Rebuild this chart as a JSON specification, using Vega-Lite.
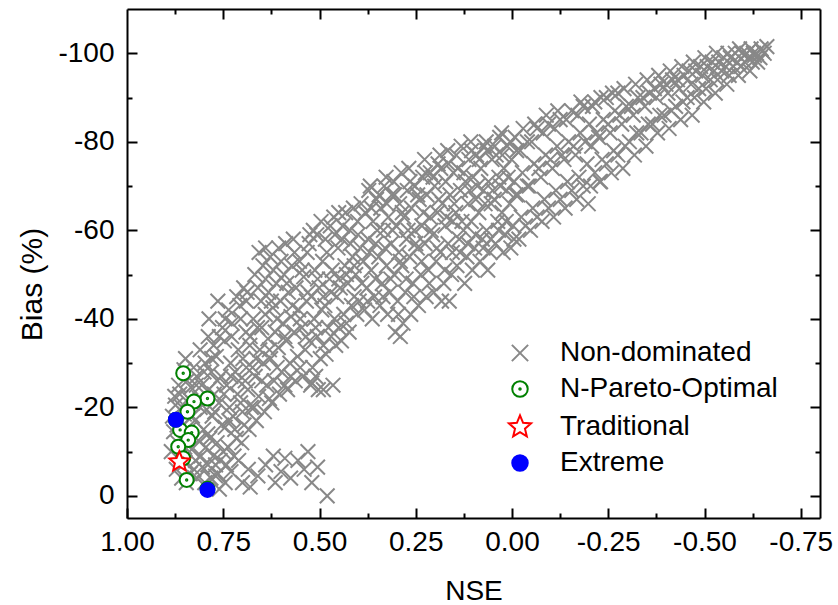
{
"$schema": "https://vega.github.io/schema/vega-lite/v6.json",
"width": 693, "height": 509,
"autosize": {"type": "none"},
"padding": {"left": 127, "top": 9, "right": 18, "bottom": 87},
"background": "white",
"config": {
 "view": {"stroke": null},
 "font": "Liberation Sans",
 "axis": {"domainColor": "black", "domainWidth": 2, "tickColor": "black", "tickWidth": 2, "labelColor": "black", "labelFont": "Liberation Sans", "labelFontSize": 28, "titleFont": "Liberation Sans", "titleFontSize": 28, "titleFontWeight": "normal", "titleColor": "black", "grid": false, "labelFlush": false, "labelOverlap": false}
},
"resolve": {"axis": {"x": "independent", "y": "independent"}},
"layer": [
 {
  "data": {"values": [
{"s":"Non-dominated","x":0.885,"y":-10},{"s":"Non-dominated","x":0.879,"y":-14.5},{"s":"Non-dominated","x":0.882,"y":-18},{"s":"Non-dominated","x":0.876,"y":-22.5},
{"s":"Non-dominated","x":0.872,"y":-6},{"s":"Non-dominated","x":0.868,"y":-12},{"s":"Non-dominated","x":0.874,"y":-20.5},{"s":"Non-dominated","x":0.866,"y":-25},
{"s":"Non-dominated","x":0.858,"y":-4},{"s":"Non-dominated","x":0.861,"y":-9},{"s":"Non-dominated","x":0.855,"y":-16},{"s":"Non-dominated","x":0.863,"y":-23},{"s":"Non-dominated","x":0.852,"y":-28.5},
{"s":"Non-dominated","x":0.846,"y":-3},{"s":"Non-dominated","x":0.849,"y":-7.5},{"s":"Non-dominated","x":0.843,"y":-13},{"s":"Non-dominated","x":0.851,"y":-18.5},{"s":"Non-dominated","x":0.844,"y":-26},{"s":"Non-dominated","x":0.848,"y":-31},
{"s":"Non-dominated","x":0.836,"y":-5},{"s":"Non-dominated","x":0.832,"y":-10.5},{"s":"Non-dominated","x":0.839,"y":-15},{"s":"Non-dominated","x":0.829,"y":-21},{"s":"Non-dominated","x":0.834,"y":-24.5},{"s":"Non-dominated","x":0.827,"y":-29},
{"s":"Non-dominated","x":0.818,"y":-4},{"s":"Non-dominated","x":0.822,"y":-8},{"s":"Non-dominated","x":0.815,"y":-12.5},{"s":"Non-dominated","x":0.824,"y":-17},{"s":"Non-dominated","x":0.812,"y":-22},{"s":"Non-dominated","x":0.819,"y":-27},{"s":"Non-dominated","x":0.81,"y":-33},
{"s":"Non-dominated","x":0.798,"y":-3},{"s":"Non-dominated","x":0.804,"y":-6.5},{"s":"Non-dominated","x":0.795,"y":-11},{"s":"Non-dominated","x":0.801,"y":-15},{"s":"Non-dominated","x":0.793,"y":-19.5},{"s":"Non-dominated","x":0.806,"y":-25},{"s":"Non-dominated","x":0.797,"y":-30},{"s":"Non-dominated","x":0.789,"y":-36},
{"s":"Non-dominated","x":0.782,"y":-4},{"s":"Non-dominated","x":0.776,"y":-9},{"s":"Non-dominated","x":0.785,"y":-13},{"s":"Non-dominated","x":0.779,"y":-18},{"s":"Non-dominated","x":0.773,"y":-23},{"s":"Non-dominated","x":0.781,"y":-28},{"s":"Non-dominated","x":0.775,"y":-34},{"s":"Non-dominated","x":0.787,"y":-40},
{"s":"Non-dominated","x":0.763,"y":-5},{"s":"Non-dominated","x":0.758,"y":-8},{"s":"Non-dominated","x":0.766,"y":-12},{"s":"Non-dominated","x":0.754,"y":-16},{"s":"Non-dominated","x":0.761,"y":-21},{"s":"Non-dominated","x":0.756,"y":-27},{"s":"Non-dominated","x":0.768,"y":-31.5},{"s":"Non-dominated","x":0.752,"y":-38},{"s":"Non-dominated","x":0.764,"y":-44},
{"s":"Non-dominated","x":0.742,"y":-7},{"s":"Non-dominated","x":0.737,"y":-11},{"s":"Non-dominated","x":0.745,"y":-15.5},{"s":"Non-dominated","x":0.734,"y":-20},{"s":"Non-dominated","x":0.741,"y":-25},{"s":"Non-dominated","x":0.731,"y":-30},{"s":"Non-dominated","x":0.747,"y":-35},{"s":"Non-dominated","x":0.736,"y":-42},
{"s":"Non-dominated","x":0.722,"y":-9},{"s":"Non-dominated","x":0.716,"y":-13},{"s":"Non-dominated","x":0.725,"y":-18},{"s":"Non-dominated","x":0.713,"y":-23},{"s":"Non-dominated","x":0.719,"y":-28},{"s":"Non-dominated","x":0.711,"y":-33},{"s":"Non-dominated","x":0.727,"y":-39},{"s":"Non-dominated","x":0.715,"y":-45},
{"s":"Non-dominated","x":0.702,"y":-12},{"s":"Non-dominated","x":0.696,"y":-16},{"s":"Non-dominated","x":0.705,"y":-21},{"s":"Non-dominated","x":0.693,"y":-26},{"s":"Non-dominated","x":0.699,"y":-31},{"s":"Non-dominated","x":0.691,"y":-37},{"s":"Non-dominated","x":0.707,"y":-43},{"s":"Non-dominated","x":0.697,"y":-47},
{"s":"Non-dominated","x":0.683,"y":-15},{"s":"Non-dominated","x":0.677,"y":-20},{"s":"Non-dominated","x":0.686,"y":-24},{"s":"Non-dominated","x":0.674,"y":-29},{"s":"Non-dominated","x":0.681,"y":-34},{"s":"Non-dominated","x":0.672,"y":-40},{"s":"Non-dominated","x":0.688,"y":-46},
{"s":"Non-dominated","x":0.87,"y":-16},{"s":"Non-dominated","x":0.857,"y":-20},{"s":"Non-dominated","x":0.85,"y":-11},{"s":"Non-dominated","x":0.84,"y":-22},{"s":"Non-dominated","x":0.826,"y":-6},{"s":"Non-dominated","x":0.83,"y":-18},{"s":"Non-dominated","x":0.82,"y":-25},{"s":"Non-dominated","x":0.808,"y":-9},{"s":"Non-dominated","x":0.81,"y":-20},{"s":"Non-dominated","x":0.80,"y":-28},{"s":"Non-dominated","x":0.79,"y":-14},{"s":"Non-dominated","x":0.788,"y":-24},{"s":"Non-dominated","x":0.78,"y":-31},{"s":"Non-dominated","x":0.77,"y":-7},{"s":"Non-dominated","x":0.772,"y":-19},{"s":"Non-dominated","x":0.765,"y":-26},{"s":"Non-dominated","x":0.76,"y":-36},{"s":"Non-dominated","x":0.75,"y":-10},{"s":"Non-dominated","x":0.748,"y":-23},{"s":"Non-dominated","x":0.745,"y":-40},{"s":"Non-dominated","x":0.735,"y":-17},{"s":"Non-dominated","x":0.73,"y":-27},{"s":"Non-dominated","x":0.728,"y":-36},{"s":"Non-dominated","x":0.72,"y":-15},{"s":"Non-dominated","x":0.71,"y":-26},{"s":"Non-dominated","x":0.705,"y":-40},{"s":"Non-dominated","x":0.70,"y":-19},{"s":"Non-dominated","x":0.69,"y":-29},{"s":"Non-dominated","x":0.69,"y":-44},{"s":"Non-dominated","x":0.68,"y":-36},
{"s":"Non-dominated","x":0.79,"y":-7},{"s":"Non-dominated","x":0.77,"y":-4.5},{"s":"Non-dominated","x":0.745,"y":-3},{"s":"Non-dominated","x":0.73,"y":-5.5},{"s":"Non-dominated","x":0.70,"y":-3},{"s":"Non-dominated","x":0.685,"y":-6},{"s":"Non-dominated","x":0.66,"y":-4.5},{"s":"Non-dominated","x":0.64,"y":-7},{"s":"Non-dominated","x":0.615,"y":-3},{"s":"Non-dominated","x":0.60,"y":-5.5},{"s":"Non-dominated","x":0.59,"y":-8.5},{"s":"Non-dominated","x":0.575,"y":-4},{"s":"Non-dominated","x":0.556,"y":-8},{"s":"Non-dominated","x":0.54,"y":-6},{"s":"Non-dominated","x":0.52,"y":-3},{"s":"Non-dominated","x":0.505,"y":-6.5},{"s":"Non-dominated","x":0.48,"y":0},{"s":"Non-dominated","x":0.53,"y":-10},{"s":"Non-dominated","x":0.62,"y":-9},{"s":"Non-dominated","x":0.71,"y":-8},{"s":"Non-dominated","x":0.76,"y":-1.5},{"s":"Non-dominated","x":0.68,"y":-2},
{"s":"Non-dominated","x":0.664,"y":-17},{"s":"Non-dominated","x":0.658,"y":-22.5},{"s":"Non-dominated","x":0.667,"y":-27},{"s":"Non-dominated","x":0.655,"y":-33},{"s":"Non-dominated","x":0.661,"y":-38},{"s":"Non-dominated","x":0.652,"y":-44},{"s":"Non-dominated","x":0.668,"y":-50},{"s":"Non-dominated","x":0.657,"y":-55},
{"s":"Non-dominated","x":0.643,"y":-19},{"s":"Non-dominated","x":0.637,"y":-25},{"s":"Non-dominated","x":0.646,"y":-30},{"s":"Non-dominated","x":0.634,"y":-35.5},{"s":"Non-dominated","x":0.641,"y":-41},{"s":"Non-dominated","x":0.632,"y":-46},{"s":"Non-dominated","x":0.647,"y":-52},
{"s":"Non-dominated","x":0.624,"y":-21},{"s":"Non-dominated","x":0.618,"y":-26},{"s":"Non-dominated","x":0.627,"y":-31},{"s":"Non-dominated","x":0.615,"y":-37},{"s":"Non-dominated","x":0.621,"y":-42.5},{"s":"Non-dominated","x":0.612,"y":-48},{"s":"Non-dominated","x":0.628,"y":-54},
{"s":"Non-dominated","x":0.604,"y":-23},{"s":"Non-dominated","x":0.598,"y":-28},{"s":"Non-dominated","x":0.607,"y":-33.5},{"s":"Non-dominated","x":0.595,"y":-39},{"s":"Non-dominated","x":0.601,"y":-44},{"s":"Non-dominated","x":0.592,"y":-50},{"s":"Non-dominated","x":0.606,"y":-56},
{"s":"Non-dominated","x":0.583,"y":-24},{"s":"Non-dominated","x":0.577,"y":-30},{"s":"Non-dominated","x":0.586,"y":-35},{"s":"Non-dominated","x":0.574,"y":-40.5},{"s":"Non-dominated","x":0.581,"y":-46},{"s":"Non-dominated","x":0.572,"y":-52},{"s":"Non-dominated","x":0.588,"y":-57},
{"s":"Non-dominated","x":0.563,"y":-26},{"s":"Non-dominated","x":0.557,"y":-31.5},{"s":"Non-dominated","x":0.566,"y":-37},{"s":"Non-dominated","x":0.554,"y":-42},{"s":"Non-dominated","x":0.561,"y":-47},{"s":"Non-dominated","x":0.552,"y":-53},{"s":"Non-dominated","x":0.568,"y":-58},
{"s":"Non-dominated","x":0.543,"y":-27},{"s":"Non-dominated","x":0.537,"y":-33},{"s":"Non-dominated","x":0.546,"y":-38},{"s":"Non-dominated","x":0.534,"y":-44},{"s":"Non-dominated","x":0.541,"y":-49.5},{"s":"Non-dominated","x":0.532,"y":-55},
{"s":"Non-dominated","x":0.523,"y":-25},{"s":"Non-dominated","x":0.518,"y":-29},{"s":"Non-dominated","x":0.526,"y":-35},{"s":"Non-dominated","x":0.514,"y":-40},{"s":"Non-dominated","x":0.521,"y":-45},{"s":"Non-dominated","x":0.512,"y":-51},{"s":"Non-dominated","x":0.527,"y":-57},{"s":"Non-dominated","x":0.516,"y":-60},
{"s":"Non-dominated","x":0.503,"y":-24},{"s":"Non-dominated","x":0.498,"y":-31},{"s":"Non-dominated","x":0.506,"y":-36},{"s":"Non-dominated","x":0.494,"y":-42},{"s":"Non-dominated","x":0.501,"y":-47},{"s":"Non-dominated","x":0.492,"y":-53},{"s":"Non-dominated","x":0.507,"y":-59},{"s":"Non-dominated","x":0.496,"y":-62},
{"s":"Non-dominated","x":0.483,"y":-32},{"s":"Non-dominated","x":0.477,"y":-38},{"s":"Non-dominated","x":0.486,"y":-43},{"s":"Non-dominated","x":0.474,"y":-49},{"s":"Non-dominated","x":0.481,"y":-55},{"s":"Non-dominated","x":0.472,"y":-61},
{"s":"Non-dominated","x":0.465,"y":-25},{"s":"Non-dominated","x":0.458,"y":-34},{"s":"Non-dominated","x":0.461,"y":-40},{"s":"Non-dominated","x":0.455,"y":-45},{"s":"Non-dominated","x":0.467,"y":-51},{"s":"Non-dominated","x":0.452,"y":-56},{"s":"Non-dominated","x":0.463,"y":-63},
{"s":"Non-dominated","x":0.443,"y":-35},{"s":"Non-dominated","x":0.437,"y":-41},{"s":"Non-dominated","x":0.446,"y":-47},{"s":"Non-dominated","x":0.434,"y":-52},{"s":"Non-dominated","x":0.441,"y":-58},{"s":"Non-dominated","x":0.432,"y":-64},
{"s":"Non-dominated","x":0.423,"y":-37},{"s":"Non-dominated","x":0.417,"y":-43},{"s":"Non-dominated","x":0.426,"y":-48},{"s":"Non-dominated","x":0.414,"y":-54},{"s":"Non-dominated","x":0.421,"y":-60},{"s":"Non-dominated","x":0.412,"y":-65},
{"s":"Non-dominated","x":0.403,"y":-41},{"s":"Non-dominated","x":0.397,"y":-44},{"s":"Non-dominated","x":0.406,"y":-50},{"s":"Non-dominated","x":0.394,"y":-56},{"s":"Non-dominated","x":0.401,"y":-62},{"s":"Non-dominated","x":0.392,"y":-66},
{"s":"Non-dominated","x":0.67,"y":-20},{"s":"Non-dominated","x":0.665,"y":-31},{"s":"Non-dominated","x":0.66,"y":-47},{"s":"Non-dominated","x":0.65,"y":-26},{"s":"Non-dominated","x":0.65,"y":-38},{"s":"Non-dominated","x":0.64,"y":-49},{"s":"Non-dominated","x":0.63,"y":-22},{"s":"Non-dominated","x":0.63,"y":-33},{"s":"Non-dominated","x":0.625,"y":-44},{"s":"Non-dominated","x":0.62,"y":-51},{"s":"Non-dominated","x":0.61,"y":-29},{"s":"Non-dominated","x":0.61,"y":-40},{"s":"Non-dominated","x":0.60,"y":-53},{"s":"Non-dominated","x":0.59,"y":-25},{"s":"Non-dominated","x":0.59,"y":-36},{"s":"Non-dominated","x":0.585,"y":-48},{"s":"Non-dominated","x":0.575,"y":-27},{"s":"Non-dominated","x":0.57,"y":-43},{"s":"Non-dominated","x":0.565,"y":-55},{"s":"Non-dominated","x":0.55,"y":-29},{"s":"Non-dominated","x":0.55,"y":-40},{"s":"Non-dominated","x":0.545,"y":-51},{"s":"Non-dominated","x":0.535,"y":-36},{"s":"Non-dominated","x":0.53,"y":-46},{"s":"Non-dominated","x":0.525,"y":-59},{"s":"Non-dominated","x":0.51,"y":-27},{"s":"Non-dominated","x":0.51,"y":-38},{"s":"Non-dominated","x":0.505,"y":-49},{"s":"Non-dominated","x":0.49,"y":-34},{"s":"Non-dominated","x":0.49,"y":-45},{"s":"Non-dominated","x":0.485,"y":-58},{"s":"Non-dominated","x":0.47,"y":-36},{"s":"Non-dominated","x":0.47,"y":-46},{"s":"Non-dominated","x":0.46,"y":-59},{"s":"Non-dominated","x":0.45,"y":-38},{"s":"Non-dominated","x":0.45,"y":-49},{"s":"Non-dominated","x":0.44,"y":-61},{"s":"Non-dominated","x":0.43,"y":-39},{"s":"Non-dominated","x":0.43,"y":-50},{"s":"Non-dominated","x":0.42,"y":-57},{"s":"Non-dominated","x":0.41,"y":-45},{"s":"Non-dominated","x":0.41,"y":-52},{"s":"Non-dominated","x":0.40,"y":-59},{"s":"Non-dominated","x":0.39,"y":-48},
{"s":"Non-dominated","x":0.383,"y":-42},{"s":"Non-dominated","x":0.377,"y":-47},{"s":"Non-dominated","x":0.386,"y":-53},{"s":"Non-dominated","x":0.374,"y":-58},{"s":"Non-dominated","x":0.381,"y":-64},{"s":"Non-dominated","x":0.372,"y":-69},
{"s":"Non-dominated","x":0.363,"y":-40},{"s":"Non-dominated","x":0.357,"y":-45},{"s":"Non-dominated","x":0.366,"y":-51},{"s":"Non-dominated","x":0.354,"y":-57},{"s":"Non-dominated","x":0.361,"y":-62},{"s":"Non-dominated","x":0.352,"y":-67},{"s":"Non-dominated","x":0.368,"y":-70},
{"s":"Non-dominated","x":0.343,"y":-43},{"s":"Non-dominated","x":0.337,"y":-48},{"s":"Non-dominated","x":0.346,"y":-54},{"s":"Non-dominated","x":0.334,"y":-60},{"s":"Non-dominated","x":0.341,"y":-65},{"s":"Non-dominated","x":0.332,"y":-70},
{"s":"Non-dominated","x":0.323,"y":-41},{"s":"Non-dominated","x":0.317,"y":-46},{"s":"Non-dominated","x":0.326,"y":-52},{"s":"Non-dominated","x":0.314,"y":-57},{"s":"Non-dominated","x":0.321,"y":-63},{"s":"Non-dominated","x":0.312,"y":-68},{"s":"Non-dominated","x":0.327,"y":-72},
{"s":"Non-dominated","x":0.303,"y":-37},{"s":"Non-dominated","x":0.297,"y":-44},{"s":"Non-dominated","x":0.306,"y":-50},{"s":"Non-dominated","x":0.294,"y":-55},{"s":"Non-dominated","x":0.301,"y":-61},{"s":"Non-dominated","x":0.292,"y":-66},{"s":"Non-dominated","x":0.307,"y":-71},
{"s":"Non-dominated","x":0.283,"y":-39},{"s":"Non-dominated","x":0.277,"y":-46},{"s":"Non-dominated","x":0.286,"y":-52},{"s":"Non-dominated","x":0.274,"y":-58},{"s":"Non-dominated","x":0.281,"y":-63},{"s":"Non-dominated","x":0.272,"y":-69},{"s":"Non-dominated","x":0.288,"y":-73},
{"s":"Non-dominated","x":0.263,"y":-41},{"s":"Non-dominated","x":0.257,"y":-48},{"s":"Non-dominated","x":0.266,"y":-54},{"s":"Non-dominated","x":0.254,"y":-60},{"s":"Non-dominated","x":0.261,"y":-65},{"s":"Non-dominated","x":0.252,"y":-70},{"s":"Non-dominated","x":0.268,"y":-74},
{"s":"Non-dominated","x":0.243,"y":-43},{"s":"Non-dominated","x":0.237,"y":-50},{"s":"Non-dominated","x":0.246,"y":-56},{"s":"Non-dominated","x":0.234,"y":-61},{"s":"Non-dominated","x":0.241,"y":-67},{"s":"Non-dominated","x":0.232,"y":-72},
{"s":"Non-dominated","x":0.223,"y":-45},{"s":"Non-dominated","x":0.217,"y":-51},{"s":"Non-dominated","x":0.226,"y":-57},{"s":"Non-dominated","x":0.214,"y":-63},{"s":"Non-dominated","x":0.221,"y":-68},{"s":"Non-dominated","x":0.212,"y":-73},{"s":"Non-dominated","x":0.227,"y":-76},
{"s":"Non-dominated","x":0.203,"y":-46},{"s":"Non-dominated","x":0.197,"y":-53},{"s":"Non-dominated","x":0.206,"y":-59},{"s":"Non-dominated","x":0.194,"y":-64},{"s":"Non-dominated","x":0.201,"y":-70},{"s":"Non-dominated","x":0.192,"y":-75},
{"s":"Non-dominated","x":0.183,"y":-44},{"s":"Non-dominated","x":0.177,"y":-48},{"s":"Non-dominated","x":0.186,"y":-55},{"s":"Non-dominated","x":0.174,"y":-61},{"s":"Non-dominated","x":0.181,"y":-66},{"s":"Non-dominated","x":0.172,"y":-71},{"s":"Non-dominated","x":0.187,"y":-77},
{"s":"Non-dominated","x":0.163,"y":-44},{"s":"Non-dominated","x":0.157,"y":-50},{"s":"Non-dominated","x":0.166,"y":-57},{"s":"Non-dominated","x":0.154,"y":-62},{"s":"Non-dominated","x":0.161,"y":-68},{"s":"Non-dominated","x":0.152,"y":-73},{"s":"Non-dominated","x":0.167,"y":-78},
{"s":"Non-dominated","x":0.143,"y":-52},{"s":"Non-dominated","x":0.137,"y":-58},{"s":"Non-dominated","x":0.146,"y":-64},{"s":"Non-dominated","x":0.134,"y":-69},{"s":"Non-dominated","x":0.141,"y":-74},{"s":"Non-dominated","x":0.132,"y":-79},
{"s":"Non-dominated","x":0.123,"y":-48},{"s":"Non-dominated","x":0.117,"y":-54},{"s":"Non-dominated","x":0.126,"y":-60},{"s":"Non-dominated","x":0.114,"y":-66},{"s":"Non-dominated","x":0.121,"y":-71},{"s":"Non-dominated","x":0.112,"y":-76},
{"s":"Non-dominated","x":0.103,"y":-51},{"s":"Non-dominated","x":0.097,"y":-56},{"s":"Non-dominated","x":0.106,"y":-62},{"s":"Non-dominated","x":0.094,"y":-67},{"s":"Non-dominated","x":0.101,"y":-72},{"s":"Non-dominated","x":0.092,"y":-77},{"s":"Non-dominated","x":0.107,"y":-80},
{"s":"Non-dominated","x":0.083,"y":-53},{"s":"Non-dominated","x":0.077,"y":-58},{"s":"Non-dominated","x":0.086,"y":-64},{"s":"Non-dominated","x":0.074,"y":-69},{"s":"Non-dominated","x":0.081,"y":-74},{"s":"Non-dominated","x":0.072,"y":-79},
{"s":"Non-dominated","x":0.063,"y":-51},{"s":"Non-dominated","x":0.057,"y":-55},{"s":"Non-dominated","x":0.066,"y":-60},{"s":"Non-dominated","x":0.054,"y":-66},{"s":"Non-dominated","x":0.061,"y":-71},{"s":"Non-dominated","x":0.052,"y":-76},{"s":"Non-dominated","x":0.067,"y":-80},
{"s":"Non-dominated","x":0.043,"y":-57},{"s":"Non-dominated","x":0.037,"y":-62},{"s":"Non-dominated","x":0.046,"y":-67},{"s":"Non-dominated","x":0.034,"y":-72},{"s":"Non-dominated","x":0.041,"y":-77},{"s":"Non-dominated","x":0.032,"y":-81},
{"s":"Non-dominated","x":0.023,"y":-55},{"s":"Non-dominated","x":0.017,"y":-59},{"s":"Non-dominated","x":0.026,"y":-64},{"s":"Non-dominated","x":0.014,"y":-69},{"s":"Non-dominated","x":0.021,"y":-74},{"s":"Non-dominated","x":0.012,"y":-79},{"s":"Non-dominated","x":0.027,"y":-82},
{"s":"Non-dominated","x":0.003,"y":-56},{"s":"Non-dominated","x":-0.003,"y":-61},{"s":"Non-dominated","x":0.006,"y":-66},{"s":"Non-dominated","x":-0.006,"y":-71},{"s":"Non-dominated","x":0.001,"y":-76},{"s":"Non-dominated","x":-0.008,"y":-81},
{"s":"Non-dominated","x":0.375,"y":-44},{"s":"Non-dominated","x":0.37,"y":-55},{"s":"Non-dominated","x":0.365,"y":-65},{"s":"Non-dominated","x":0.355,"y":-49},{"s":"Non-dominated","x":0.35,"y":-60},{"s":"Non-dominated","x":0.345,"y":-68},{"s":"Non-dominated","x":0.335,"y":-45},{"s":"Non-dominated","x":0.33,"y":-56},{"s":"Non-dominated","x":0.325,"y":-66},{"s":"Non-dominated","x":0.315,"y":-49},{"s":"Non-dominated","x":0.31,"y":-60},{"s":"Non-dominated","x":0.305,"y":-68},{"s":"Non-dominated","x":0.295,"y":-41},{"s":"Non-dominated","x":0.29,"y":-53},{"s":"Non-dominated","x":0.285,"y":-64},{"s":"Non-dominated","x":0.275,"y":-49},{"s":"Non-dominated","x":0.27,"y":-60},{"s":"Non-dominated","x":0.265,"y":-71},{"s":"Non-dominated","x":0.255,"y":-45},{"s":"Non-dominated","x":0.25,"y":-57},{"s":"Non-dominated","x":0.245,"y":-68},{"s":"Non-dominated","x":0.235,"y":-53},{"s":"Non-dominated","x":0.23,"y":-64},{"s":"Non-dominated","x":0.225,"y":-73},{"s":"Non-dominated","x":0.215,"y":-48},{"s":"Non-dominated","x":0.21,"y":-60},{"s":"Non-dominated","x":0.205,"y":-72},{"s":"Non-dominated","x":0.195,"y":-56},{"s":"Non-dominated","x":0.19,"y":-67},{"s":"Non-dominated","x":0.185,"y":-74},{"s":"Non-dominated","x":0.175,"y":-51},{"s":"Non-dominated","x":0.17,"y":-63},{"s":"Non-dominated","x":0.165,"y":-75},{"s":"Non-dominated","x":0.155,"y":-55},{"s":"Non-dominated","x":0.15,"y":-66},{"s":"Non-dominated","x":0.145,"y":-77},{"s":"Non-dominated","x":0.135,"y":-55},{"s":"Non-dominated","x":0.13,"y":-62},{"s":"Non-dominated","x":0.125,"y":-73},{"s":"Non-dominated","x":0.115,"y":-57},{"s":"Non-dominated","x":0.11,"y":-69},{"s":"Non-dominated","x":0.105,"y":-78},{"s":"Non-dominated","x":0.095,"y":-59},{"s":"Non-dominated","x":0.09,"y":-70},{"s":"Non-dominated","x":0.085,"y":-76},{"s":"Non-dominated","x":0.075,"y":-56},{"s":"Non-dominated","x":0.07,"y":-66},{"s":"Non-dominated","x":0.065,"y":-78},{"s":"Non-dominated","x":0.055,"y":-58},{"s":"Non-dominated","x":0.05,"y":-69},{"s":"Non-dominated","x":0.045,"y":-79},{"s":"Non-dominated","x":0.035,"y":-60},{"s":"Non-dominated","x":0.03,"y":-70},{"s":"Non-dominated","x":0.025,"y":-77},{"s":"Non-dominated","x":0.015,"y":-62},{"s":"Non-dominated","x":0.01,"y":-72},{"s":"Non-dominated","x":0.005,"y":-80},{"s":"Non-dominated","x":-0.005,"y":-58},{"s":"Non-dominated","x":-0.01,"y":-68},{"s":"Non-dominated","x":-0.012,"y":-78},
{"s":"Non-dominated","x":-0.018,"y":-58},{"s":"Non-dominated","x":-0.024,"y":-63},{"s":"Non-dominated","x":-0.015,"y":-68},{"s":"Non-dominated","x":-0.027,"y":-73},{"s":"Non-dominated","x":-0.021,"y":-78},{"s":"Non-dominated","x":-0.029,"y":-83},
{"s":"Non-dominated","x":-0.048,"y":-60},{"s":"Non-dominated","x":-0.054,"y":-65},{"s":"Non-dominated","x":-0.045,"y":-70},{"s":"Non-dominated","x":-0.057,"y":-75},{"s":"Non-dominated","x":-0.051,"y":-80},{"s":"Non-dominated","x":-0.059,"y":-84},
{"s":"Non-dominated","x":-0.078,"y":-62},{"s":"Non-dominated","x":-0.084,"y":-67},{"s":"Non-dominated","x":-0.075,"y":-72},{"s":"Non-dominated","x":-0.087,"y":-77},{"s":"Non-dominated","x":-0.081,"y":-82},{"s":"Non-dominated","x":-0.089,"y":-86},
{"s":"Non-dominated","x":-0.108,"y":-63},{"s":"Non-dominated","x":-0.114,"y":-69},{"s":"Non-dominated","x":-0.105,"y":-74},{"s":"Non-dominated","x":-0.117,"y":-79},{"s":"Non-dominated","x":-0.111,"y":-83},{"s":"Non-dominated","x":-0.119,"y":-87},
{"s":"Non-dominated","x":-0.138,"y":-65},{"s":"Non-dominated","x":-0.144,"y":-71},{"s":"Non-dominated","x":-0.135,"y":-76},{"s":"Non-dominated","x":-0.147,"y":-80},{"s":"Non-dominated","x":-0.141,"y":-85},
{"s":"Non-dominated","x":-0.168,"y":-67},{"s":"Non-dominated","x":-0.174,"y":-72},{"s":"Non-dominated","x":-0.165,"y":-77},{"s":"Non-dominated","x":-0.177,"y":-82},{"s":"Non-dominated","x":-0.171,"y":-86},{"s":"Non-dominated","x":-0.179,"y":-89},
{"s":"Non-dominated","x":-0.198,"y":-66},{"s":"Non-dominated","x":-0.204,"y":-70},{"s":"Non-dominated","x":-0.195,"y":-75},{"s":"Non-dominated","x":-0.207,"y":-79},{"s":"Non-dominated","x":-0.201,"y":-84},{"s":"Non-dominated","x":-0.209,"y":-88},
{"s":"Non-dominated","x":-0.228,"y":-71},{"s":"Non-dominated","x":-0.234,"y":-76},{"s":"Non-dominated","x":-0.225,"y":-81},{"s":"Non-dominated","x":-0.237,"y":-85},{"s":"Non-dominated","x":-0.231,"y":-90},
{"s":"Non-dominated","x":-0.258,"y":-73},{"s":"Non-dominated","x":-0.264,"y":-78},{"s":"Non-dominated","x":-0.255,"y":-82},{"s":"Non-dominated","x":-0.267,"y":-87},{"s":"Non-dominated","x":-0.261,"y":-91},
{"s":"Non-dominated","x":-0.288,"y":-74},{"s":"Non-dominated","x":-0.294,"y":-79},{"s":"Non-dominated","x":-0.285,"y":-84},{"s":"Non-dominated","x":-0.297,"y":-88},{"s":"Non-dominated","x":-0.291,"y":-92},
{"s":"Non-dominated","x":-0.318,"y":-77},{"s":"Non-dominated","x":-0.324,"y":-82},{"s":"Non-dominated","x":-0.315,"y":-86},{"s":"Non-dominated","x":-0.327,"y":-90},{"s":"Non-dominated","x":-0.321,"y":-93},
{"s":"Non-dominated","x":-0.348,"y":-79},{"s":"Non-dominated","x":-0.354,"y":-84},{"s":"Non-dominated","x":-0.345,"y":-88},{"s":"Non-dominated","x":-0.357,"y":-91},{"s":"Non-dominated","x":-0.351,"y":-94},
{"s":"Non-dominated","x":-0.378,"y":-82},{"s":"Non-dominated","x":-0.384,"y":-86},{"s":"Non-dominated","x":-0.375,"y":-90},{"s":"Non-dominated","x":-0.387,"y":-93},{"s":"Non-dominated","x":-0.381,"y":-95},
{"s":"Non-dominated","x":-0.408,"y":-83},{"s":"Non-dominated","x":-0.414,"y":-87},{"s":"Non-dominated","x":-0.405,"y":-91},{"s":"Non-dominated","x":-0.417,"y":-94},{"s":"Non-dominated","x":-0.411,"y":-96},
{"s":"Non-dominated","x":-0.438,"y":-85},{"s":"Non-dominated","x":-0.444,"y":-89},{"s":"Non-dominated","x":-0.435,"y":-92},{"s":"Non-dominated","x":-0.447,"y":-95},{"s":"Non-dominated","x":-0.441,"y":-97},
{"s":"Non-dominated","x":-0.468,"y":-86},{"s":"Non-dominated","x":-0.474,"y":-90},{"s":"Non-dominated","x":-0.465,"y":-93},{"s":"Non-dominated","x":-0.477,"y":-96},{"s":"Non-dominated","x":-0.471,"y":-98},
{"s":"Non-dominated","x":-0.498,"y":-89},{"s":"Non-dominated","x":-0.504,"y":-92},{"s":"Non-dominated","x":-0.495,"y":-95},{"s":"Non-dominated","x":-0.507,"y":-97},{"s":"Non-dominated","x":-0.501,"y":-99},
{"s":"Non-dominated","x":-0.528,"y":-91},{"s":"Non-dominated","x":-0.534,"y":-94},{"s":"Non-dominated","x":-0.525,"y":-96},{"s":"Non-dominated","x":-0.537,"y":-98},{"s":"Non-dominated","x":-0.531,"y":-100},
{"s":"Non-dominated","x":-0.558,"y":-93},{"s":"Non-dominated","x":-0.564,"y":-95},{"s":"Non-dominated","x":-0.555,"y":-97},{"s":"Non-dominated","x":-0.567,"y":-99},{"s":"Non-dominated","x":-0.561,"y":-100},
{"s":"Non-dominated","x":-0.588,"y":-95},{"s":"Non-dominated","x":-0.594,"y":-97},{"s":"Non-dominated","x":-0.585,"y":-98},{"s":"Non-dominated","x":-0.597,"y":-100},{"s":"Non-dominated","x":-0.591,"y":-101},
{"s":"Non-dominated","x":-0.618,"y":-96},{"s":"Non-dominated","x":-0.624,"y":-98},{"s":"Non-dominated","x":-0.615,"y":-99},{"s":"Non-dominated","x":-0.627,"y":-100},{"s":"Non-dominated","x":-0.621,"y":-101},
{"s":"Non-dominated","x":-0.638,"y":-98},{"s":"Non-dominated","x":-0.644,"y":-99},{"s":"Non-dominated","x":-0.635,"y":-100},{"s":"Non-dominated","x":-0.647,"y":-101},
{"s":"Non-dominated","x":-0.655,"y":-100},{"s":"Non-dominated","x":-0.662,"y":-101.5},
{"s":"Non-dominated","x":-0.035,"y":-61},{"s":"Non-dominated","x":-0.04,"y":-70},{"s":"Non-dominated","x":-0.04,"y":-80},{"s":"Non-dominated","x":-0.065,"y":-63},{"s":"Non-dominated","x":-0.07,"y":-74},{"s":"Non-dominated","x":-0.065,"y":-83},{"s":"Non-dominated","x":-0.095,"y":-65},{"s":"Non-dominated","x":-0.1,"y":-76},{"s":"Non-dominated","x":-0.095,"y":-84},{"s":"Non-dominated","x":-0.125,"y":-67},{"s":"Non-dominated","x":-0.13,"y":-77},{"s":"Non-dominated","x":-0.125,"y":-85},{"s":"Non-dominated","x":-0.155,"y":-69},{"s":"Non-dominated","x":-0.16,"y":-79},{"s":"Non-dominated","x":-0.155,"y":-87},{"s":"Non-dominated","x":-0.185,"y":-70},{"s":"Non-dominated","x":-0.19,"y":-80},{"s":"Non-dominated","x":-0.185,"y":-88},{"s":"Non-dominated","x":-0.215,"y":-73},{"s":"Non-dominated","x":-0.22,"y":-82},{"s":"Non-dominated","x":-0.215,"y":-89},{"s":"Non-dominated","x":-0.245,"y":-75},{"s":"Non-dominated","x":-0.25,"y":-84},{"s":"Non-dominated","x":-0.245,"y":-90},{"s":"Non-dominated","x":-0.275,"y":-77},{"s":"Non-dominated","x":-0.28,"y":-86},{"s":"Non-dominated","x":-0.275,"y":-91},{"s":"Non-dominated","x":-0.305,"y":-80},{"s":"Non-dominated","x":-0.31,"y":-88},{"s":"Non-dominated","x":-0.335,"y":-82},{"s":"Non-dominated","x":-0.34,"y":-90},{"s":"Non-dominated","x":-0.365,"y":-84},{"s":"Non-dominated","x":-0.37,"y":-92},{"s":"Non-dominated","x":-0.395,"y":-86},{"s":"Non-dominated","x":-0.40,"y":-93},{"s":"Non-dominated","x":-0.425,"y":-88},{"s":"Non-dominated","x":-0.43,"y":-94},{"s":"Non-dominated","x":-0.455,"y":-90},{"s":"Non-dominated","x":-0.46,"y":-96},{"s":"Non-dominated","x":-0.485,"y":-92},{"s":"Non-dominated","x":-0.49,"y":-97},{"s":"Non-dominated","x":-0.515,"y":-94},{"s":"Non-dominated","x":-0.52,"y":-98},{"s":"Non-dominated","x":-0.545,"y":-96},{"s":"Non-dominated","x":-0.55,"y":-99},{"s":"Non-dominated","x":-0.575,"y":-97},{"s":"Non-dominated","x":-0.58,"y":-100},{"s":"Non-dominated","x":-0.605,"y":-98},{"s":"Non-dominated","x":-0.61,"y":-100},{"s":"Non-dominated","x":-0.63,"y":-99.5},{"s":"Non-dominated","x":-0.65,"y":-100.5},
{"s":"Non-dominated","x":0.52,"y":-25.5},{"s":"Non-dominated","x":0.49,"y":-24},{"s":"Non-dominated","x":0.29,"y":-36},{"s":"Non-dominated","x":0.45,"y":-64},{"s":"Non-dominated","x":0.64,"y":-56},{"s":"Non-dominated","x":-0.23,"y":-71},
{"s":"N-Pareto-Optimal","x":0.854,"y":-27.7},{"s":"N-Pareto-Optimal","x":0.791,"y":-22.0},{"s":"N-Pareto-Optimal","x":0.826,"y":-21.3},{"s":"N-Pareto-Optimal","x":0.843,"y":-19.0},{"s":"N-Pareto-Optimal","x":0.862,"y":-14.9},{"s":"N-Pareto-Optimal","x":0.832,"y":-14.3},{"s":"N-Pareto-Optimal","x":0.841,"y":-12.6},{"s":"N-Pareto-Optimal","x":0.867,"y":-11.1},{"s":"N-Pareto-Optimal","x":0.854,"y":-8.5},{"s":"N-Pareto-Optimal","x":0.845,"y":-3.6},{"s":"N-Pareto-Optimal","x":0.791,"y":-1.6},{"s":"N-Pareto-Optimal","x":0.873,"y":-17.2},
{"s":"Traditional","x":0.864,"y":-7.7},
{"s":"Extreme","x":0.873,"y":-17.2},{"s":"Extreme","x":0.791,"y":-1.35}
  ]},
  "mark": {"type": "point", "filled": true, "size": 196, "strokeWidth": 2, "opacity": 1},
  "encoding": {
   "x": {"field": "x", "type": "quantitative", "scale": {"domain": [1, -0.8], "nice": false, "zero": false},
     "axis": {"orient": "bottom", "values": [1, 0.75, 0.5, 0.25, 0, -0.25, -0.5, -0.75], "labelExpr": "datum.value < 0 ? '-' + format(-datum.value, '.2f') : format(datum.value, '.2f')", "tickSize": -10, "labelPadding": 20, "labelFontSize": 28, "title": "NSE", "titleFontSize": 28, "titlePadding": 21}},
   "y": {"field": "y", "type": "quantitative", "scale": {"domain": [5, -110], "nice": false, "zero": false},
     "axis": {"orient": "left", "values": [0, -20, -40, -60, -80, -100], "labelExpr": "datum.value < 0 ? '-' + format(-datum.value, 'd') : format(datum.value, 'd')", "tickSize": -10, "labelPadding": 23, "labelFontSize": 28, "title": "Bias (%)", "titleFontSize": 30, "titlePadding": 10, "titleY": 275}},
   "shape": {"field": "s", "type": "nominal",
     "scale": {"domain": ["Non-dominated", "N-Pareto-Optimal", "Traditional", "Extreme"],
       "range": ["M-1.05,-1.05L1.05,1.05M-1.05,1.05L1.05,-1.05", "M-1,0A1,1,0,1,1,1,0A1,1,0,1,1,-1,0ZM-0.1,0A0.1,0.1,0,1,1,0.1,0A0.1,0.1,0,1,1,-0.1,0Z", "M0,-1.5L0.398,-0.546L1.427,-0.464L0.642,0.209L0.882,1.214L0,0.675L-0.882,1.214L-0.642,0.209L-1.427,-0.464L-0.398,-0.546Z", "circle"]},
     "legend": {"title": null, "orient": "none", "legendX": 379, "legendY": 330, "labelFontSize": 28, "labelFont": "Liberation Sans", "labelColor": "black", "labelLimit": 400, "symbolSize": 240, "symbolStrokeWidth": 2, "rowPadding": 8, "labelOffset": 26, "padding": 0}},
   "stroke": {"field": "s", "type": "nominal",
     "scale": {"domain": ["Non-dominated", "N-Pareto-Optimal", "Traditional", "Extreme"], "range": ["#888888", "#008000", "#ff0000", "#0000ff"]},
     "legend": {"title": null, "orient": "none", "legendX": 379, "legendY": 330, "labelFontSize": 28, "labelFont": "Liberation Sans", "labelColor": "black", "labelLimit": 400, "symbolSize": 240, "symbolStrokeWidth": 2, "rowPadding": 8, "labelOffset": 26, "padding": 0}},
   "fill": {"field": "s", "type": "nominal",
     "scale": {"domain": ["Non-dominated", "N-Pareto-Optimal", "Traditional", "Extreme"], "range": ["white", "white", "white", "#0000ff"]},
     "legend": {"title": null, "orient": "none", "legendX": 379, "legendY": 330, "labelFontSize": 28, "labelFont": "Liberation Sans", "labelColor": "black", "labelLimit": 400, "symbolSize": 240, "symbolStrokeWidth": 2, "rowPadding": 8, "labelOffset": 26, "padding": 0}}
  }
 },
 {
  "data": {"values": [{"x": 0, "y": 0}]},
  "mark": {"type": "point", "opacity": 0},
  "encoding": {
   "x": {"field": "x", "type": "quantitative", "axis": {"orient": "bottom", "values": [0.875, 0.625, 0.375, 0.125, -0.125, -0.375, -0.625], "tickSize": -5, "labels": false, "domain": false, "title": null}},
   "y": {"field": "y", "type": "quantitative", "axis": {"orient": "left", "values": [-10, -30, -50, -70, -90], "tickSize": -5, "labels": false, "domain": false, "title": null}}
  }
 },
 {
  "data": {"values": [{"x": 0, "y": 0}]},
  "mark": {"type": "point", "opacity": 0},
  "encoding": {
   "x": {"field": "x", "type": "quantitative", "axis": {"orient": "top", "values": [0.75, 0.5, 0.25, 0, -0.25, -0.5, -0.75], "tickSize": -10, "labels": false, "domain": true, "title": null}},
   "y": {"field": "y", "type": "quantitative", "axis": {"orient": "right", "values": [0, -20, -40, -60, -80, -100], "tickSize": -10, "labels": false, "domain": true, "title": null}}
  }
 },
 {
  "data": {"values": [{"x": 0, "y": 0}]},
  "mark": {"type": "point", "opacity": 0},
  "encoding": {
   "x": {"field": "x", "type": "quantitative", "axis": {"orient": "top", "values": [0.875, 0.625, 0.375, 0.125, -0.125, -0.375, -0.625], "tickSize": -5, "labels": false, "domain": false, "title": null}},
   "y": {"field": "y", "type": "quantitative", "axis": {"orient": "right", "values": [-10, -30, -50, -70, -90], "tickSize": -5, "labels": false, "domain": false, "title": null}}
  }
 }
]
}
